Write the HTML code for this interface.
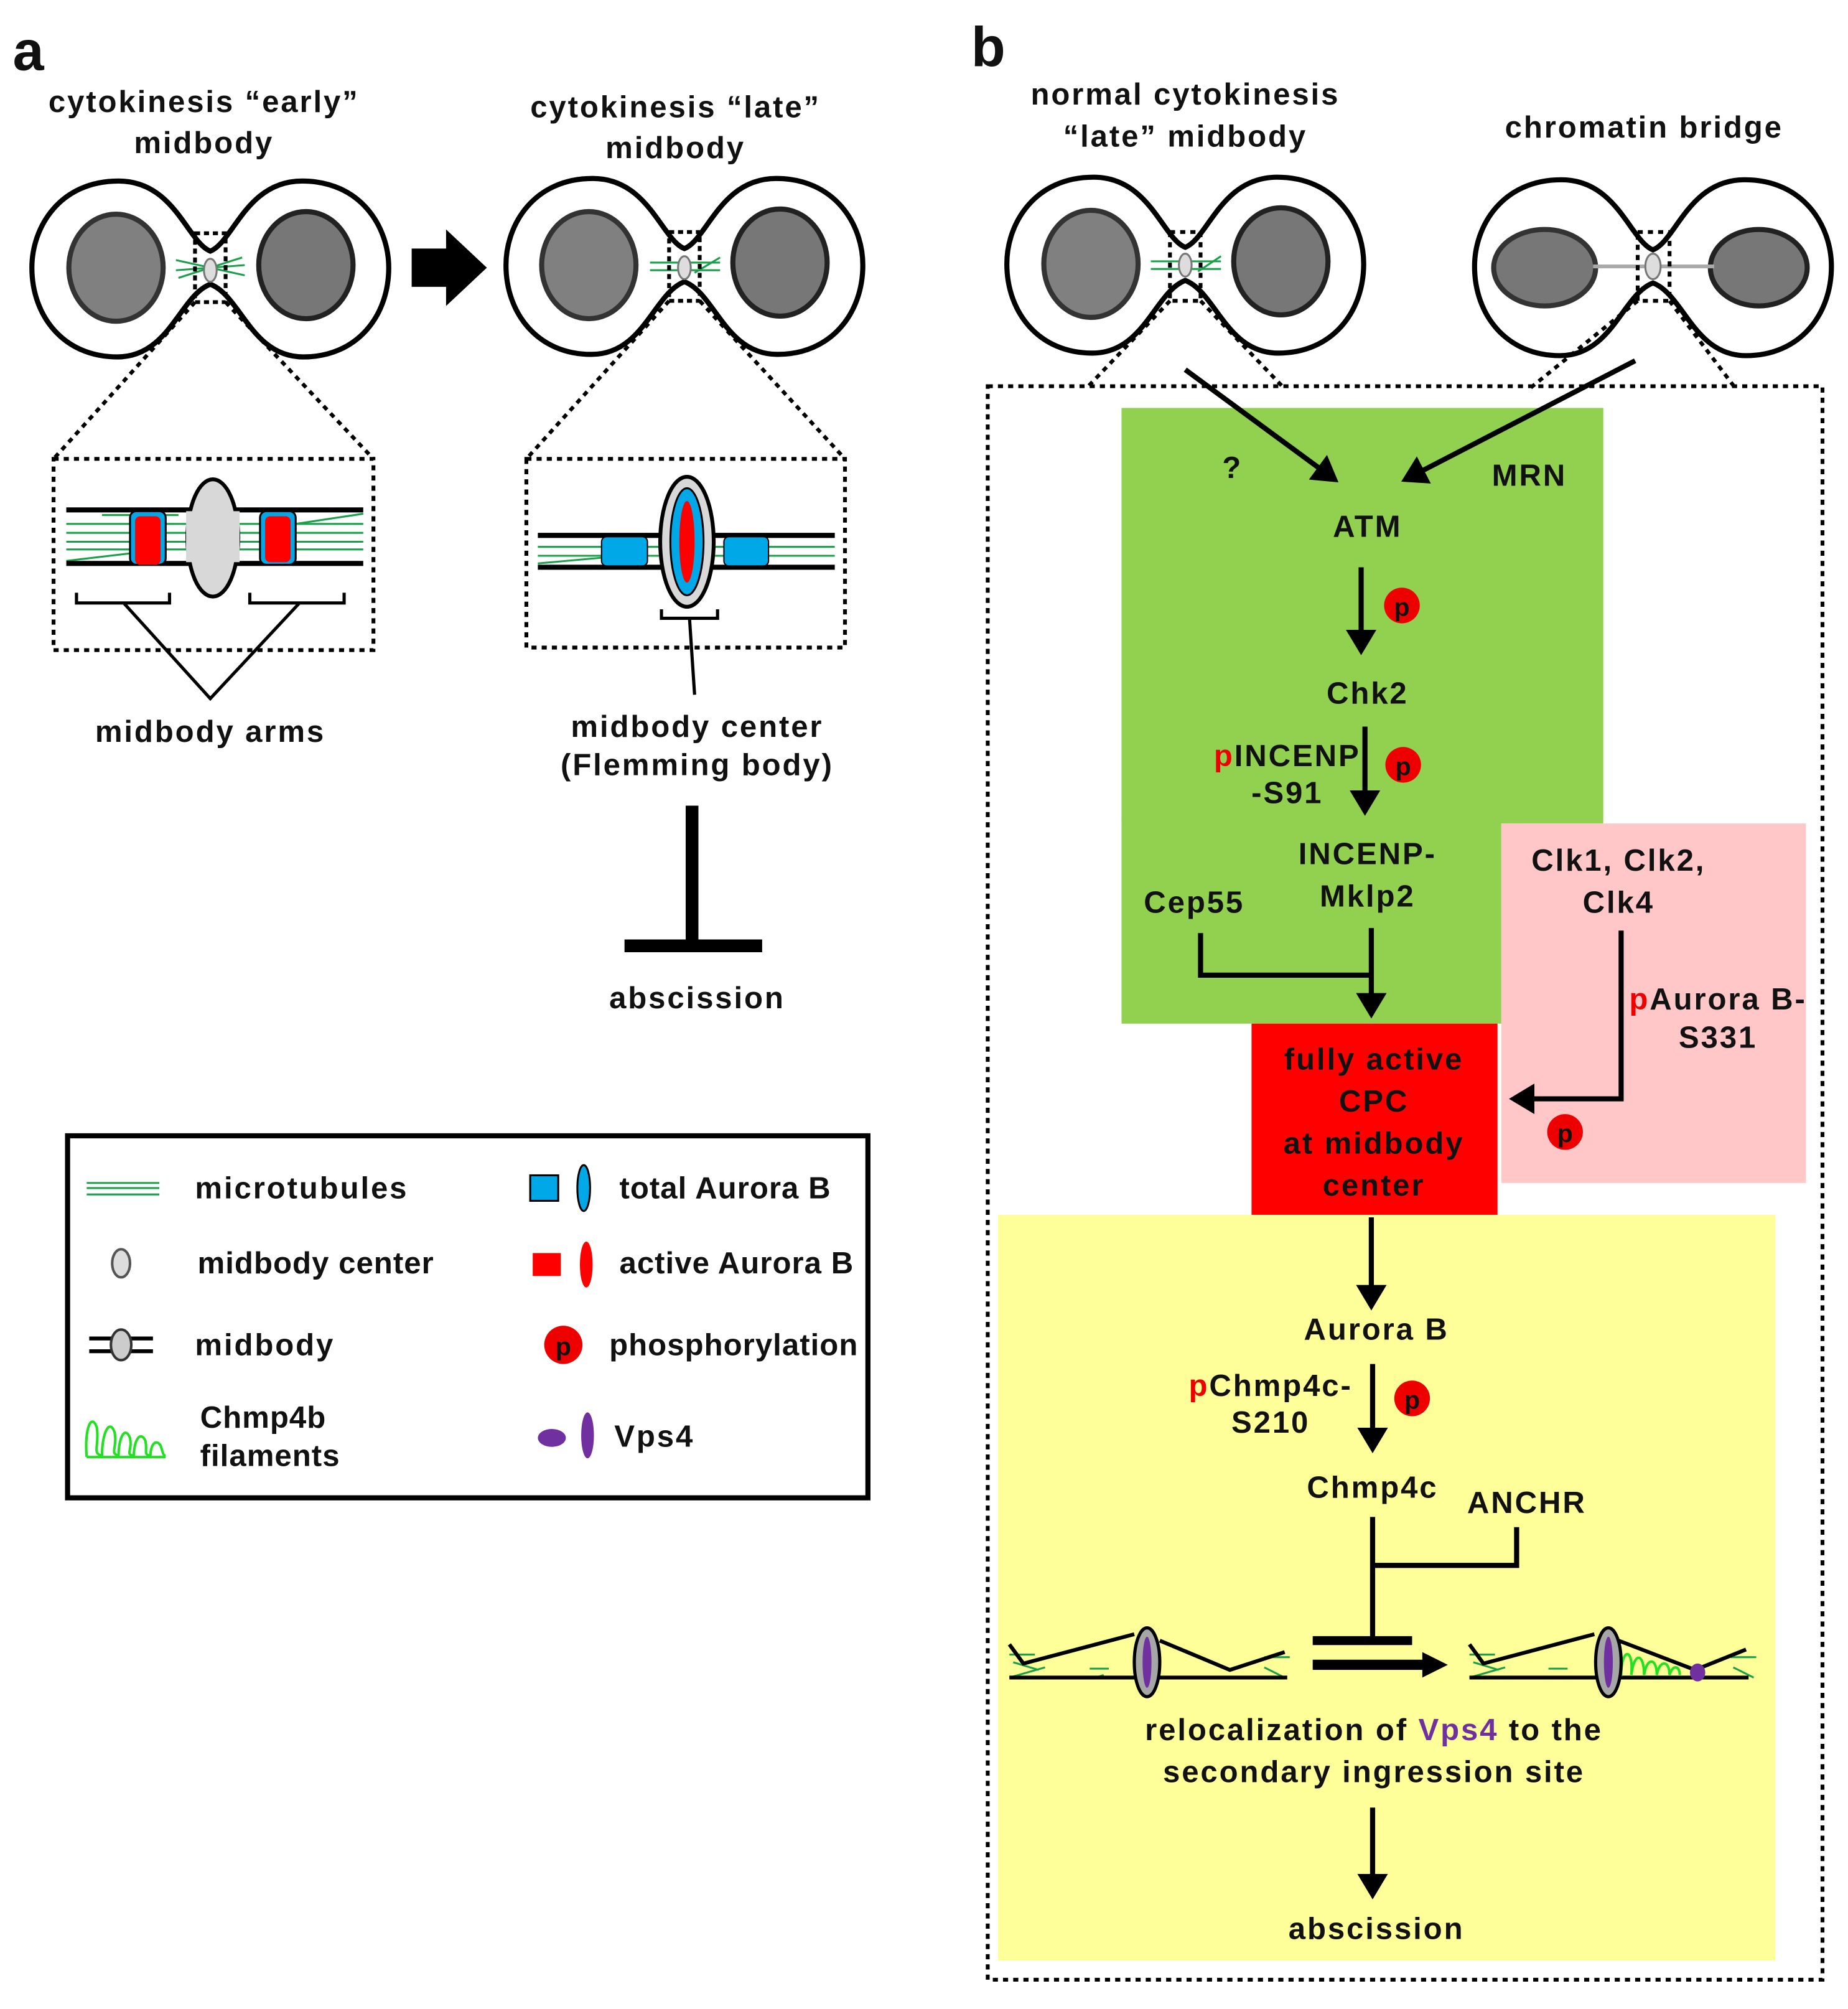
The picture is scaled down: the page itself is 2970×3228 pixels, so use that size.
<!DOCTYPE html>
<html><head><meta charset="utf-8"><style>
html,body{margin:0;padding:0;background:#fff;}
svg{display:block;}
text{font-family:"Liberation Sans",sans-serif;font-weight:bold;font-size:24px;letter-spacing:1.4px;fill:#111;}
.c{text-anchor:middle;}
.n{letter-spacing:0.5px;}
</style></head><body>
<svg width="2970" height="3228" viewBox="0 0 1450 1576" xmlns="http://www.w3.org/2000/svg">
<defs>
<marker id="ah" markerWidth="6" markerHeight="6" refX="4" refY="3" orient="auto" markerUnits="strokeWidth">
<path d="M0,0 L5,3 L0,6 Z" fill="#000"/></marker>
<g id="cell">
<path d="M0,-13 C-18,-20 -28,-68 -72,-68 C-118,-68 -140,-32 -140,0 C-140,38 -115,70 -73,70 C-32,70 -24,22 0,13 C24,22 32,70 73,70 C115,70 140,38 140,0 C140,-32 118,-68 72,-68 C28,-68 18,-20 0,-13 Z" fill="#fff" stroke="#000" stroke-width="4"/>
</g>
</defs>
<rect width="1450" height="1576" fill="#fff"/>

<text x="10" y="55" style="font-size:44px;letter-spacing:0">a</text>
<text x="762" y="52" style="font-size:44px;letter-spacing:0">b</text>

<text class="c" x="160" y="88">cytokinesis “early”</text>
<text class="c" x="160" y="120">midbody</text>
<text class="c" x="530" y="92">cytokinesis “late”</text>
<text class="c" x="530" y="124">midbody</text>

<use href="#cell" x="165" y="210"/>
<ellipse cx="91" cy="210" rx="37" ry="42" fill="#808080" stroke="#333" stroke-width="4"/>
<ellipse cx="240" cy="208" rx="37" ry="42" fill="#777" stroke="#222" stroke-width="4"/>
<g stroke="#1aa04a" stroke-width="1.5"><line x1="138" y1="204" x2="192" y2="216"/><line x1="138" y1="212" x2="192" y2="208"/><line x1="140" y1="218" x2="190" y2="202"/></g>
<ellipse cx="165" cy="212" rx="5" ry="9" fill="#ddd" stroke="#777" stroke-width="1.5"/>
<rect x="153" y="183" width="24" height="54" fill="none" stroke="#000" stroke-width="3" stroke-dasharray="4,3"/>

<path d="M323,195 L350,195 L350,180 L382,210 L350,240 L350,225 L323,225 Z" fill="#000"/>

<use href="#cell" x="537" y="208"/>
<ellipse cx="462" cy="208" rx="37" ry="42" fill="#808080" stroke="#333" stroke-width="4"/>
<ellipse cx="612" cy="206" rx="37" ry="42" fill="#777" stroke="#222" stroke-width="4"/>
<g stroke="#1aa04a" stroke-width="1.5"><line x1="510" y1="206" x2="565" y2="206"/><line x1="510" y1="212" x2="565" y2="212"/><line x1="545" y1="214" x2="565" y2="202"/></g>
<ellipse cx="537" cy="210" rx="5" ry="9" fill="#ddd" stroke="#777" stroke-width="1.5"/>
<rect x="525" y="182" width="24" height="54" fill="none" stroke="#000" stroke-width="3" stroke-dasharray="4,3"/>

<g stroke="#000" stroke-width="3" stroke-dasharray="4,4" fill="none">
<line x1="153" y1="237" x2="42" y2="360"/><line x1="177" y1="237" x2="293" y2="360"/>
<rect x="42" y="360" width="251" height="150"/>
<line x1="525" y1="236" x2="413" y2="360"/><line x1="549" y1="236" x2="663" y2="360"/>
<rect x="413" y="360" width="250" height="148"/>
</g>

<g stroke="#1aa04a" stroke-width="1.5">
<line x1="52" y1="411" x2="285" y2="411"/><line x1="52" y1="418" x2="285" y2="418"/><line x1="52" y1="425" x2="285" y2="425"/><line x1="52" y1="431" x2="285" y2="431"/><line x1="52" y1="440" x2="120" y2="432"/><line x1="225" y1="412" x2="285" y2="403"/><line x1="80" y1="404" x2="140" y2="404"/>
</g>
<line x1="52" y1="400" x2="285" y2="400" stroke="#000" stroke-width="4"/>
<line x1="52" y1="442" x2="285" y2="442" stroke="#000" stroke-width="4"/>
<ellipse cx="167" cy="422" rx="20" ry="46" fill="#d8d8d8" stroke="#000" stroke-width="3"/>
<rect x="146" y="401" width="42" height="40" fill="#d8d8d8"/>
<rect x="102" y="401" width="28" height="42" rx="5" fill="#00a8e8" stroke="#000" stroke-width="1.5"/>
<rect x="106" y="405" width="20" height="38" rx="4" fill="#f00"/>
<rect x="204" y="401" width="28" height="42" rx="5" fill="#00a8e8" stroke="#000" stroke-width="1.5"/>
<rect x="208" y="405" width="20" height="36" rx="4" fill="#f00"/>
<g stroke="#000" stroke-width="2.5" fill="none">
<path d="M60,465 V473 H133 V465"/><path d="M196,465 V473 H270 V465"/>
<path d="M97,473 L165,548 L235,473"/>
</g>
<text class="c" x="165" y="582">midbody arms</text>

<g stroke="#1aa04a" stroke-width="1.5">
<line x1="422" y1="429" x2="655" y2="429"/><line x1="422" y1="436" x2="655" y2="436"/><line x1="422" y1="442" x2="500" y2="435"/>
</g>
<line x1="422" y1="420" x2="655" y2="420" stroke="#000" stroke-width="4"/>
<line x1="422" y1="445" x2="655" y2="445" stroke="#000" stroke-width="4"/>
<ellipse cx="539" cy="425" rx="21" ry="51" fill="#d8d8d8" stroke="#000" stroke-width="3"/>
<ellipse cx="539" cy="425" rx="13" ry="42" fill="#00a8e8" stroke="#000" stroke-width="1.5"/>
<ellipse cx="539" cy="425" rx="6" ry="32" fill="#f00"/>
<rect x="472" y="421" width="36" height="23" rx="4" fill="#00a8e8" stroke="#000" stroke-width="1"/>
<rect x="568" y="421" width="35" height="23" rx="4" fill="#00a8e8" stroke="#000" stroke-width="1"/>
<g stroke="#000" stroke-width="2.5" fill="none"><path d="M519,478 V485 H563 V478"/><line x1="541" y1="485" x2="545" y2="545"/></g>
<text class="c" x="547" y="578">midbody center</text>
<text class="c" x="547" y="608">(Flemming body)</text>
<line x1="543" y1="632" x2="543" y2="742" stroke="#000" stroke-width="10"/>
<line x1="490" y1="742" x2="598" y2="742" stroke="#000" stroke-width="10"/>
<text class="c" x="547" y="791">abscission</text>

<rect x="53" y="891" width="628" height="284" fill="none" stroke="#000" stroke-width="4"/>
<g stroke="#1aa04a" stroke-width="1.5"><line x1="68" y1="928" x2="125" y2="928"/><line x1="68" y1="932" x2="125" y2="932"/><line x1="68" y1="937" x2="125" y2="937"/></g>
<text x="153" y="940">microtubules</text>
<ellipse cx="95" cy="991" rx="7" ry="11" fill="#ddd" stroke="#555" stroke-width="2"/>
<text x="155" y="999" class="n">midbody center</text>
<line x1="70" y1="1050" x2="120" y2="1050" stroke="#000" stroke-width="3"/>
<line x1="70" y1="1060" x2="120" y2="1060" stroke="#000" stroke-width="3"/>
<ellipse cx="95" cy="1055" rx="8" ry="12" fill="#ccc" stroke="#333" stroke-width="2"/>
<text x="153" y="1063">midbody</text>
<path d="M68,1143 C66,1120 72,1108 76,1120 C78,1135 72,1140 80,1142 C80,1124 86,1112 90,1124 C92,1136 86,1140 93,1142 C93,1128 98,1118 102,1128 C104,1138 98,1141 105,1142 C105,1130 110,1122 114,1130 C116,1138 112,1141 118,1142 C118,1134 122,1128 126,1134 C128,1140 128,1142 130,1142 M68,1143 H130" stroke="#22e022" stroke-width="2" fill="none"/>
<text x="157" y="1120" class="n">Chmp4b</text>
<text x="157" y="1150" class="n">filaments</text>
<rect x="416" y="922" width="22" height="20" fill="#00a8e8" stroke="#000" stroke-width="1.5"/>
<ellipse cx="458" cy="932" rx="5" ry="18" fill="#00a8e8" stroke="#000" stroke-width="1.5"/>
<text x="486" y="940" class="n">total Aurora B</text>
<rect x="418" y="983" width="22" height="18" fill="#f00"/>
<ellipse cx="460" cy="992" rx="5" ry="18" fill="#f00"/>
<text x="486" y="999" class="n">active Aurora B</text>
<circle cx="442" cy="1055" r="15" fill="#e00"/>
<text class="c" x="442" y="1063" style="font-size:20px;letter-spacing:0">p</text>
<text x="478" y="1063" class="n">phosphorylation</text>
<ellipse cx="433" cy="1128" rx="11" ry="7" fill="#7030a0"/>
<ellipse cx="461" cy="1126" rx="5" ry="18" fill="#7030a0"/>
<text x="482" y="1135">Vps4</text>

<text class="c" x="930" y="82">normal cytokinesis</text>
<text class="c" x="930" y="115">“late” midbody</text>
<text class="c" x="1290" y="108">chromatin bridge</text>

<use href="#cell" x="930" y="207"/>
<ellipse cx="856" cy="207" rx="37" ry="42" fill="#808080" stroke="#333" stroke-width="4"/>
<ellipse cx="1005" cy="205" rx="37" ry="42" fill="#777" stroke="#222" stroke-width="4"/>
<g stroke="#1aa04a" stroke-width="1.5"><line x1="903" y1="205" x2="958" y2="205"/><line x1="903" y1="211" x2="958" y2="211"/><line x1="940" y1="213" x2="958" y2="201"/></g>
<ellipse cx="930" cy="208" rx="5" ry="9" fill="#ddd" stroke="#777" stroke-width="1.5"/>

<use href="#cell" x="1297" y="209"/>
<ellipse cx="1212" cy="210" rx="40" ry="30" fill="#777" stroke="#333" stroke-width="4"/>
<ellipse cx="1380" cy="210" rx="38" ry="30" fill="#777" stroke="#222" stroke-width="4"/>
<line x1="1250" y1="209" x2="1345" y2="209" stroke="#aaa" stroke-width="3"/>
<ellipse cx="1297" cy="209" rx="6" ry="10" fill="#ddd" stroke="#777" stroke-width="1.5"/>

<g stroke="#000" stroke-width="3" stroke-dasharray="4,4" fill="none">
<rect x="918" y="182" width="24" height="54"/>
<rect x="1285" y="182" width="25" height="54"/>
<line x1="918" y1="236" x2="852" y2="305"/><line x1="942" y1="236" x2="1008" y2="305"/>
<line x1="1285" y1="236" x2="1200" y2="305"/><line x1="1310" y1="236" x2="1362" y2="305"/>
<rect x="775" y="303" width="655" height="1250"/>
</g>

<rect x="880" y="320" width="378" height="326" fill="#92d050"/>
<rect x="880" y="640" width="298" height="163" fill="#92d050"/>
<rect x="1178" y="646" width="239" height="282" fill="#ffc7c7"/>
<rect x="982" y="803" width="193" height="150" fill="#f00"/>
<rect x="783" y="953" width="610" height="585" fill="#ffff99"/>

<g stroke="#000" stroke-width="4" fill="none">
<line x1="930" y1="290" x2="1047" y2="376" marker-end="url(#ah)"/>
<line x1="1283" y1="283" x2="1103" y2="376" marker-end="url(#ah)"/>
<line x1="1068" y1="445" x2="1068" y2="510" marker-end="url(#ah)"/>
<line x1="1071" y1="570" x2="1071" y2="636" marker-end="url(#ah)"/>
<path d="M942,732 V765 H1076"/>
<line x1="1076" y1="728" x2="1076" y2="795" marker-end="url(#ah)"/>
<path d="M1272,730 V862 H1188" marker-end="url(#ah)"/>
<line x1="1076" y1="955" x2="1076" y2="1024" marker-end="url(#ah)"/>
<line x1="1077" y1="1070" x2="1077" y2="1136" marker-end="url(#ah)"/>
<line x1="1077" y1="1190" x2="1077" y2="1287"/>
<path d="M1077,1228 H1190 V1198"/>
<line x1="1077" y1="1418" x2="1077" y2="1486" marker-end="url(#ah)"/>
</g>
<line x1="1030" y1="1287" x2="1108" y2="1287" stroke="#000" stroke-width="7"/>
<line x1="1030" y1="1306" x2="1120" y2="1306" stroke="#000" stroke-width="8"/>
<path d="M1116,1296 L1136,1306 L1116,1316 Z" fill="#000"/>

<text class="c" x="967" y="375">?</text>
<text class="c" x="1200" y="381">MRN</text>
<text class="c" x="1073" y="421">ATM</text>
<circle cx="1100" cy="475" r="14" fill="#e00"/><text class="c" x="1100" y="483" style="font-size:20px;letter-spacing:0">p</text>
<text class="c" x="1073" y="552">Chk2</text>
<text class="c" x="1010" y="601"><tspan fill="#e00">p</tspan>INCENP</text>
<text class="c" x="1010" y="630">-S91</text>
<circle cx="1101" cy="600" r="14" fill="#e00"/><text class="c" x="1101" y="608" style="font-size:20px;letter-spacing:0">p</text>
<text class="c" x="1073" y="678">INCENP-</text>
<text class="c" x="1073" y="711">Mklp2</text>
<text class="c" x="937" y="716">Cep55</text>
<text class="c" x="1270" y="683">Clk1, Clk2,</text>
<text class="c" x="1270" y="716">Clk4</text>
<text class="c" x="1348" y="792"><tspan fill="#e00">p</tspan>Aurora B-</text>
<text class="c" x="1348" y="822">S331</text>
<circle cx="1228" cy="888" r="14" fill="#e00"/><text class="c" x="1228" y="896" style="font-size:20px;letter-spacing:0">p</text>
<text class="c" x="1078" y="839">fully active</text>
<text class="c" x="1078" y="872">CPC</text>
<text class="c" x="1078" y="905">at midbody</text>
<text class="c" x="1078" y="938">center</text>
<text class="c" x="1080" y="1051">Aurora B</text>
<text class="c" x="997" y="1095"><tspan fill="#e00">p</tspan>Chmp4c-</text>
<text class="c" x="997" y="1124">S210</text>
<circle cx="1108" cy="1097" r="14" fill="#e00"/><text class="c" x="1108" y="1105" style="font-size:20px;letter-spacing:0">p</text>
<text class="c" x="1077" y="1175">Chmp4c</text>
<text class="c" x="1198" y="1187">ANCHR</text>

<g stroke="#1aa04a" stroke-width="1.5"><line x1="792" y1="1298" x2="812" y2="1298"/><line x1="795" y1="1304" x2="815" y2="1310"/><line x1="792" y1="1316" x2="820" y2="1308"/><line x1="855" y1="1309" x2="870" y2="1309"/><line x1="860" y1="1316" x2="866" y2="1314"/><line x1="992" y1="1300" x2="1012" y2="1300"/><line x1="992" y1="1308" x2="1008" y2="1316"/></g>
<path d="M792,1290 L803,1305 L890,1282" stroke="#000" stroke-width="3" fill="none"/>
<path d="M910,1287 L965,1310 L1008,1296" stroke="#000" stroke-width="3" fill="none"/>
<line x1="792" y1="1316" x2="1010" y2="1316" stroke="#000" stroke-width="3"/>
<ellipse cx="900" cy="1304" rx="10" ry="27" fill="#a6a6a6" stroke="#000" stroke-width="2.5"/>
<ellipse cx="900" cy="1304" rx="3.5" ry="20" fill="#7030a0"/>

<g stroke="#1aa04a" stroke-width="1.5"><line x1="1153" y1="1298" x2="1173" y2="1298"/><line x1="1156" y1="1304" x2="1176" y2="1310"/><line x1="1153" y1="1316" x2="1181" y2="1308"/><line x1="1215" y1="1309" x2="1230" y2="1309"/><line x1="1358" y1="1300" x2="1378" y2="1300"/><line x1="1360" y1="1308" x2="1376" y2="1316"/></g>
<path d="M1153,1290 L1164,1305 L1251,1282" stroke="#000" stroke-width="3" fill="none"/>
<path d="M1270,1287 L1330,1310 L1370,1294" stroke="#000" stroke-width="3" fill="none"/>
<line x1="1153" y1="1316" x2="1372" y2="1316" stroke="#000" stroke-width="3"/>
<path d="M1272,1315 C1272,1292 1282,1292 1280,1314 C1282,1296 1290,1296 1290,1314 C1292,1300 1300,1300 1300,1314 C1302,1302 1310,1302 1310,1314 C1312,1306 1318,1306 1318,1314" stroke="#22e022" stroke-width="2" fill="none"/>
<ellipse cx="1332" cy="1312" rx="6" ry="7" fill="#7030a0"/>
<ellipse cx="1262" cy="1304" rx="10" ry="27" fill="#a6a6a6" stroke="#000" stroke-width="2.5"/>
<ellipse cx="1262" cy="1304" rx="3.5" ry="20" fill="#7030a0"/>

<text class="c" x="1078" y="1365">relocalization of <tspan fill="#7030a0">Vps4</tspan> to the</text>
<text class="c" x="1078" y="1398">secondary ingression site</text>
<text class="c" x="1080" y="1521">abscission</text>
</svg>
</body></html>
